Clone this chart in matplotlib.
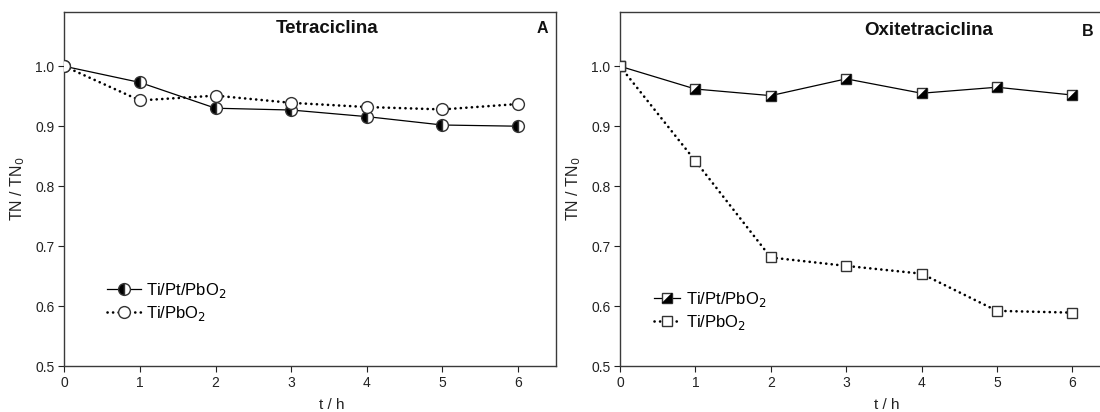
import matplotlib
matplotlib.use("Agg")
import matplotlib.pyplot as plt
from matplotlib.path import Path
from matplotlib.legend_handler import HandlerTuple

plt.rcParams['font.family'] = ['Liberation Sans', 'DejaVu Sans']

t_hours = [0, 1, 2, 3, 4, 5, 6]
x_ticks = [0, 1, 2, 3, 4, 5, 6]
y_ticks = [0.5, 0.6, 0.7, 0.8, 0.9, 1.0]

tetra_TiPtPbO2 = [1.0, 0.973, 0.930, 0.927, 0.916, 0.902, 0.900]
tetra_TiPbO2 = [1.0, 0.943, 0.951, 0.939, 0.932, 0.928, 0.937]

oxi_TiPtPbO2 = [1.0, 0.962, 0.951, 0.979, 0.955, 0.965, 0.952]
oxi_TiPbO2 = [1.0, 0.842, 0.681, 0.667, 0.654, 0.592, 0.589]

label_a = 'Ti/Pt/PbO$_2$'
label_b = 'Ti/PbO$_2$'

W, H = 1100, 412
fig = plt.figure(figsize=(W / 100, H / 100), dpi=100)

spine_col = '#3a3a3a'
mk_edge = '#333333'
dot_style = (0, (0.05, 2.05))
dot_lw = 1.9

def style_axes(ax, xmax):
    ax.set_xlim(0, xmax)
    ax.set_ylim(0.5, 1.09)
    ax.set_xticks(x_ticks)
    ax.set_yticks(y_ticks)
    ax.set_yticklabels([f'{v:.1f}' for v in y_ticks])
    ax.tick_params(direction='out', length=4, width=0.8, labelsize=10,
                   colors='#222222', pad=3)
    for s in ax.spines.values():
        s.set_color(spine_col)
        s.set_linewidth(1.0)
    ax.set_xlabel('t / h', fontsize=11, color='#222222')
    ax.xaxis.set_label_coords(0.545, -0.09)
    ax.set_ylabel('TN / TN$_0$', fontsize=11.5, color='#222222')
    ax.yaxis.set_label_coords(-0.075, 0.5)

# ---------- Panel A ----------
axA = fig.add_axes([64.3 / W, 46 / H, (555.7 - 64.3) / W, (399.7 - 46) / H])
la, = axA.plot(t_hours, tetra_TiPtPbO2, color='black', lw=0.9, marker='o',
               markersize=8.5, fillstyle='left', markerfacecolor='black',
               markerfacecoloralt='white', markeredgecolor=mk_edge,
               markeredgewidth=1.0, label=label_a, zorder=3)
lb, = axA.plot(t_hours, tetra_TiPbO2, color='black', lw=dot_lw, linestyle=dot_style,
               dash_capstyle='round', marker='o', markersize=8.5,
               markerfacecolor='white', markeredgecolor=mk_edge,
               markeredgewidth=1.0, label=label_b, zorder=4)
style_axes(axA, 6.5)
axA.text(3.47, 1.063, 'Tetraciclina', ha='center', va='center',
         fontsize=13.5, fontweight='bold', color='#111111')
axA.text(6.32, 1.063, 'A', ha='center', va='center', fontsize=11.5,
         fontweight='bold', color='#111111')
axA.legend(handles=[la, lb], loc='upper left', bbox_to_anchor=(0.074, 0.26),
           frameon=False, fontsize=12, handlelength=2.0, handletextpad=0.35,
           labelspacing=0.25, borderaxespad=0)

# ---------- Panel B ----------
axB = fig.add_axes([620 / W, 46 / H, (1110 - 620) / W, (399.7 - 46) / H])
tri = Path([(1, 1), (1, -1), (-1, -1), (1, 1)],
           [Path.MOVETO, Path.LINETO, Path.LINETO, Path.CLOSEPOLY])
lc, = axB.plot(t_hours, oxi_TiPtPbO2, color='black', lw=0.9, marker='s',
               markersize=7.5, markerfacecolor='white', markeredgecolor=mk_edge,
               markeredgewidth=1.0, label=label_a, zorder=3)
lc_tri, = axB.plot(t_hours, oxi_TiPtPbO2, linestyle='none', marker=tri,
                   markersize=7.5, markerfacecolor='black',
                   markeredgecolor='black', markeredgewidth=0.3, zorder=4)
ld, = axB.plot(t_hours, oxi_TiPbO2, color='black', lw=dot_lw, linestyle=dot_style,
               dash_capstyle='round', marker='s', markersize=7.5,
               markerfacecolor='white', markeredgecolor=mk_edge,
               markeredgewidth=1.0, label=label_b, zorder=4)
style_axes(axB, 6.5)
axB.text(4.09, 1.06, 'Oxitetraciclina', ha='center', va='center',
         fontsize=13.5, fontweight='bold', color='#111111')
axB.text(6.21, 1.058, 'B', ha='center', va='center', fontsize=11.5,
         fontweight='bold', color='#111111')
axB.legend(handles=[(lc, lc_tri), ld], labels=[label_a, label_b],
           handler_map={tuple: HandlerTuple(ndivide=1, pad=0)},
           loc='upper left', bbox_to_anchor=(0.055, 0.235),
           frameon=False, fontsize=12, handlelength=1.6, handletextpad=0.35,
           labelspacing=0.25, borderaxespad=0)

fig.savefig('out.png', dpi=100)
